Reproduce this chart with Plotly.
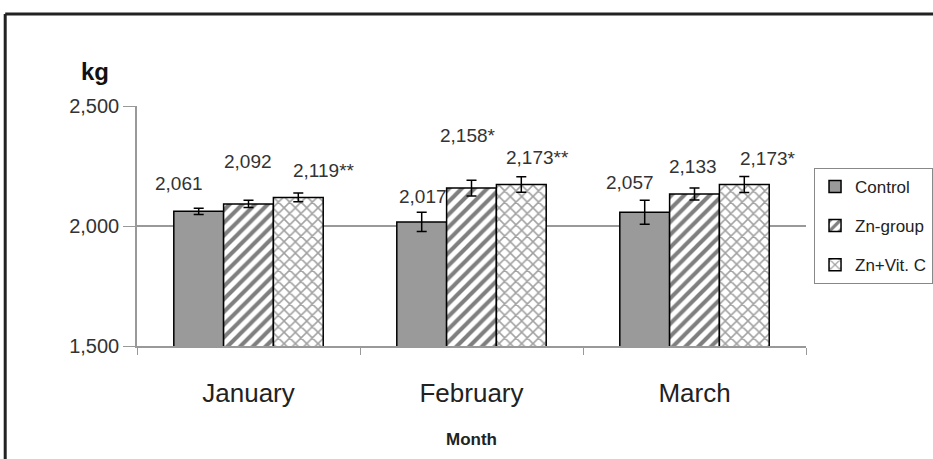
import plotly.graph_objects as go

months = ["January", "February", "March"]
groups = ["Control", "Zn-group", "Zn+Vit. C"]
control = [2061, 2017, 2057]
zn = [2092, 2158, 2133]
zn_vitc = [2119, 2173, 2173]
control_err = [13, 40, 50]
zn_err = [15, 33, 25]
zn_vitc_err = [18, 32, 33]
control_sig = ["", "", ""]
zn_sig = ["", "*", ""]
zn_vitc_sig = ["**", "**", "*"]

values = [control, zn, zn_vitc]
errors = [control_err, zn_err, zn_vitc_err]
sigs = [control_sig, zn_sig, zn_vitc_sig]

fonts = "Arial, Liberation Sans, sans-serif"

# bar look for each group
styles = [
    dict(color="#9a9a9a"),
    dict(color="white", pattern=dict(shape="/", fgcolor="black", bgcolor="white", size=9, solidity=0.45)),
    dict(color="white", pattern=dict(shape="x", fgcolor="#444444", bgcolor="white", size=8, solidity=0.35)),
]

fig = go.Figure()
for name, vals, errs, st in zip(groups, values, errors, styles):
    fig.add_trace(go.Bar(
        x=months, y=vals, name=name, legendgroup=name,
        marker=dict(line=dict(color="black", width=1.5), **st),
        error_y=dict(type="data", array=errs, color="black", thickness=1.5, width=5),
    ))

# data labels, nudged around like in the original
bar_dx = [-50, 0, 50]
label_dx = [[-20, 1, -15], [-1, -4, -2], [25, 16, 23]]
label_dy = [[28, 25, 30], [42, 53, 28], [27, 27, 26]]
for g in range(3):
    for i, m in enumerate(months):
        fig.add_annotation(
            x=m, y=values[g][i], xref="x", yref="y",
            text=f"{values[g][i]:,}{sigs[g][i]}", showarrow=False,
            xshift=bar_dx[g] + label_dx[g][i], yshift=label_dy[g][i],
            font=dict(size=19, color="#333333", family=fonts),
        )

fig.add_annotation(x=-0.063, y=1.142, xref="paper", yref="paper", text="<b>kg</b>",
                   xanchor="center", yanchor="middle", showarrow=False,
                   font=dict(size=24, color="#111111", family=fonts))

# outer chart frame (top and left edges only visible)
fig.add_shape(type="line", xref="paper", yref="paper", x0=-0.197, x1=1.25, y0=1.383, y1=1.383,
              line=dict(color="#222222", width=3))
fig.add_shape(type="line", xref="paper", yref="paper", x0=-0.197, x1=-0.197, y0=1.383, y1=-0.6,
              line=dict(color="#222222", width=3))

fig.update_layout(
    width=933, height=459,
    margin=dict(l=137, r=127, t=106, b=113, autoexpand=False),
    paper_bgcolor="white", plot_bgcolor="white",
    barmode="group", bargap=0.33, bargroupgap=0,
    font=dict(family=fonts, color="#222222"),
    legend=dict(x=1.012, y=0.742, xanchor="left", yanchor="top",
                bgcolor="white", bordercolor="#888888", borderwidth=1,
                font=dict(size=17, color="#222222"), tracegroupgap=14),
)
fig.update_xaxes(showline=True, linecolor="#999999", linewidth=1.5, tickson="boundaries",
                 ticks="outside", ticklen=7, tickcolor="#999999", ticklabelstandoff=23,
                 tickfont=dict(size=26, color="#222222"),
                 title=dict(text="<b>Month</b>", font=dict(size=17, color="#222222"), standoff=26))
fig.update_yaxes(range=[1500, 2500], tickvals=[1500, 2000, 2500], tickformat=",",
                 showline=True, linecolor="#999999", linewidth=1.5, ticks="outside", ticklen=12,
                 tickcolor="#999999", showgrid=True, gridcolor="#999999", gridwidth=1.5,
                 tickfont=dict(size=20, color="#333333"), zeroline=False)

# page has a default body margin; drop it so the chart sits at the window corner
fig.write_html("out.html", config={"displayModeBar": False},
               post_script="document.body.style.margin='0';")
